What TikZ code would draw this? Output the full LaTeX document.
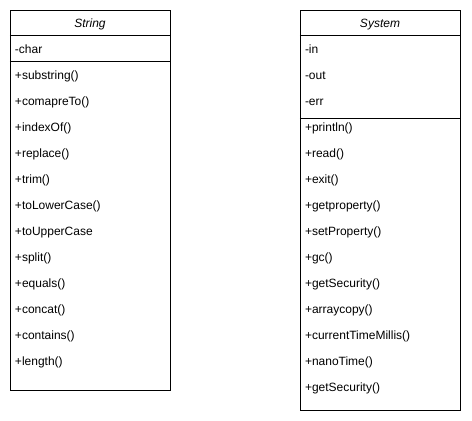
\documentclass[tikz,border=0pt]{standalone}
\usepackage{fontspec}
\setmainfont{Liberation Sans}
\usetikzlibrary{positioning}
\newcommand{\umlfont}{\fontsize{12pt}{14pt}\selectfont}
\tikzset{
classframe/.style = {draw, rectangle, line width=1pt, minimum width=160pt, inner sep=0pt},
classname/.style  = {rectangle, minimum width=160pt, minimum height=26pt, inner sep=0pt, text height=10pt, text depth=0pt, font=\umlfont\itshape},
member/.style     = {rectangle, text width=150pt, align=left, inner xsep=5pt, inner ysep=0pt, minimum height=26pt, text height=10pt, text depth=0pt, font=\umlfont},
sepline/.style    = {draw, line width=1pt}
}
\begin{document}
\begin{tikzpicture}[x=1pt, y=-1pt, node distance=26pt]
  \useasboundingbox (0,0) rectangle (472,421);
  % String
  \node [classframe, minimum height=380pt]  (strframe)  at (90,200) {};
  \node [classname, below=0pt of strframe.north] (strname) {String};
  \node [member, below of=strname]          (strchar)   {-char};
  \node [member, below of=strchar]          (strsub)    {+substring()};
  \node [member, below of=strsub]           (strcmp)    {+comapreTo()};
  \node [member, below of=strcmp]           (strindex)  {+indexOf()};
  \node [member, below of=strindex]         (strrepl)   {+replace()};
  \node [member, below of=strrepl]          (strtrim)   {+trim()};
  \node [member, below of=strtrim]          (strlower)  {+toLowerCase()};
  \node [member, below of=strlower]         (strupper)  {+toUpperCase};
  \node [member, below of=strupper]         (strsplit)  {+split()};
  \node [member, below of=strsplit]         (strequals) {+equals()};
  \node [member, below of=strequals]        (strconcat) {+concat()};
  \node [member, below of=strconcat]        (strcont)   {+contains()};
  \node [member, below of=strcont]          (strlen)    {+length()};

  % System
  \node [classframe, minimum height=400pt]  (sysframe)  at (380,210) {};
  \node [classname, below=0pt of sysframe.north] (sysname) {System};
  \node [member, below of=sysname]          (sysin)     {-in};
  \node [member, below of=sysin]            (sysout)    {-out};
  \node [member, below of=sysout]           (syserr)    {-err};
  \node [member, below of=syserr]           (sysprint)  {+println()};
  \node [member, below of=sysprint]         (sysread)   {+read()};
  \node [member, below of=sysread]          (sysexit)   {+exit()};
  \node [member, below of=sysexit]          (sysgetp)   {+getproperty()};
  \node [member, below of=sysgetp]          (syssetp)   {+setProperty()};
  \node [member, below of=syssetp]          (sysgc)     {+gc()};
  \node [member, below of=sysgc]            (syssec)    {+getSecurity()};
  \node [member, below of=syssec]           (sysarr)    {+arraycopy()};
  \node [member, below of=sysarr]           (systime)   {+currentTimeMillis()};
  \node [member, below of=systime]          (sysnano)   {+nanoTime()};
  \node [member, below of=sysnano]          (syssecb)   {+getSecurity()};

  \draw [sepline] (strname.south west) -- (strname.south east);
  \draw [sepline] (strchar.south west) -- (strchar.south east);
  \draw [sepline] (sysname.south west) -- (sysname.south east);
  \draw [sepline] ([yshift=-5pt]syserr.south west) -- ([yshift=-5pt]syserr.south east);
\end{tikzpicture}
\end{document}
